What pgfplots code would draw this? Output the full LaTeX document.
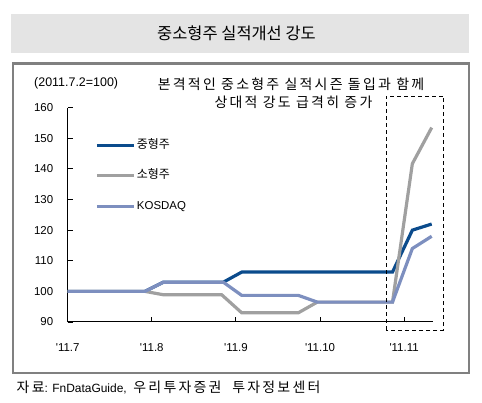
\documentclass[border=0pt]{standalone}
\usepackage{pgfplots}
\pgfplotsset{compat=1.18}
\usepackage{fontspec}
\setmainfont{Liberation Sans}
\newfontfamily\kr{Noto Sans CJK KR}
\newfontfamily\krw{Noto Sans CJK KR}[LetterSpace=16]
\definecolor{cMid}{HTML}{0B4B8C}
\definecolor{cSmall}{HTML}{A0A0A0}
\definecolor{cKosdaq}{HTML}{7D8FBF}
\definecolor{band}{HTML}{E4E4E4}
\definecolor{frame}{HTML}{808080}
\begin{document}
\begin{tikzpicture}[x=1bp,y=1bp]
\path[use as bounding box] (0bp,0bp) rectangle (482bp,403bp);
\fill[band] (11bp,349.7bp) rectangle (468.5bp,389bp);
\node[font=\kr\fontsize{16.5}{19}\selectfont] at (236.5bp,369.5bp) {중소형주 실적개선 강도};
\draw[frame, line width=2.4bp] (13bp,30bp) rectangle (469bp,339.3bp);
\begin{axis}[
  at={(67.7bp,81bp)}, anchor=south west,
  width=365bp, height=214.3bp, scale only axis,
  xmin=0, xmax=4.34, ymin=90, ymax=160,
  axis lines*=left,
  axis line style={black, line width=1bp},
  tick align=inside, major tick length=5bp,
  tick style={black, line width=0.9bp},
  xtick={0,1,2,3,4},
  xticklabels={\textquotesingle11.7,\textquotesingle11.8,\textquotesingle11.9,\textquotesingle11.10,\textquotesingle11.11},
  ytick={90,100,...,160},
  ticklabel style={font=\fontsize{11.5}{13}\selectfont},
  /pgf/number format/assume math mode=true,
  xticklabel style={yshift=-18bp},
  yticklabel style={xshift=-11bp},
  clip=false,
  legend style={at={(0.075,0.86)}, anchor=north west, draw=none, fill=none,
    font=\fontsize{11.5}{13}\selectfont, row sep=16bp, inner sep=0pt,
    nodes={inner sep=1.5bp, text height=9bp, text depth=2.5bp}},
  legend cell align=left,
  legend image code/.code={\draw[#1] (0bp,0bp) -- (37bp,0bp);},
]
\addplot[cMid, line width=3.2bp] coordinates {
 (0,100) (0.919,100) (1.137,103) (1.850,103) (2.069,106.3) (3.862,106.3) (4.098,120) (4.328,122)};
\addlegendentry{\kr\fontsize{12}{13}\selectfont 중형주}
\addplot[cSmall, line width=3.2bp] coordinates {
 (0,100) (0.919,100) (1.137,98.9) (1.831,98.9) (2.069,93) (2.742,93) (2.968,96.5) (3.862,96.5) (4.098,141.7) (4.328,153.5)};
\addlegendentry{\kr\fontsize{12}{13}\selectfont 소형주}
\addplot[cKosdaq, line width=3.2bp] coordinates {
 (0,100) (0.919,100) (1.137,103) (1.850,103) (2.069,98.7) (2.742,98.7) (2.968,96.5) (3.862,96.5) (4.098,114) (4.328,118)};
\addlegendentry{KOSDAQ}
\end{axis}
\draw[black, line width=0.9bp, dash pattern=on 4bp off 3bp] (386bp,73bp) rectangle (443.5bp,307bp);
\node[anchor=west, inner sep=0pt, font=\fontsize{12.5}{14}\selectfont] at (34bp,320bp) {(2011.7.2=100)};
\node[inner sep=0pt, font=\krw\fontsize{14}{16}\selectfont] at (291bp,319bp) {본격적인 중소형주 실적시즌 돌입과 함께};
\node[inner sep=0pt, font=\krw\fontsize{14}{16}\selectfont] at (293.5bp,301bp) {상대적 강도 급격히 증가};
\node[anchor=west, inner sep=0pt, font=\fontsize{12}{14}\selectfont] at (16.5bp,16bp) {{\krw\fontsize{14}{16}\selectfont 자료}: FnDataGuide,\ \ {\krw\fontsize{14}{16}\selectfont 우리투자증권\ \ 투자정보센터}};
\end{tikzpicture}
\end{document}
